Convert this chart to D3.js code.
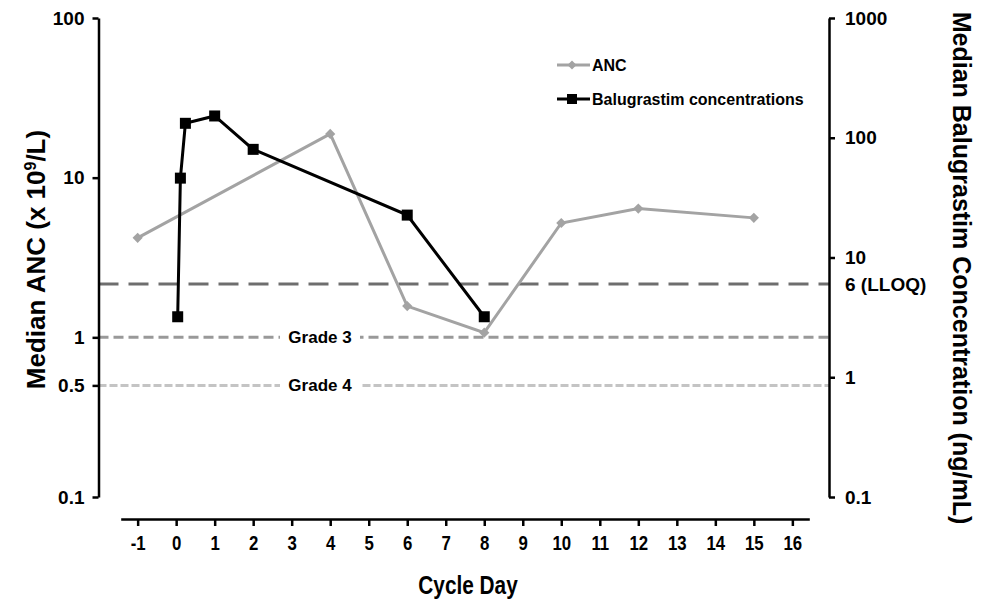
<!DOCTYPE html>
<html>
<head>
<meta charset="utf-8">
<script src="https://cdn.jsdelivr.net/npm/d3@7"></script>
<style>
  body { margin: 0; background: #fff; }
  text { font-family: "Liberation Sans", Arial, sans-serif; font-weight: bold; }
</style>
</head>
<body>
<div id="chart"></div>
<script>
// data
const days = d3.range(-1, 17);
const ancDays = [-1, 4, 6, 8, 10, 12, 15];
const ancValues = [4.2, 18.8, 1.57, 1.07, 5.2, 6.4, 5.6];
const balDays = [0.04, 0.11, 0.24, 1, 2, 6, 8];
const balValues = [3.2, 46, 132, 152, 80, 22.6, 3.2];
const leftTicks = [0.1, 0.5, 1, 10, 100];
const rightTicks = [0.1, 1, 10, 100, 1000];
const lloq = 6;
const gradeLabels = ["Grade 3", "Grade 4"];
const gradeValues = [1, 0.5];

const width = 984, height = 602;
const axL = 98.5, axR = 829, axB = 519;

const svg = d3.select("#chart").append("svg")
  .attr("width", width)
  .attr("height", height);

const x = d3.scaleLinear().domain([-1.44, 16.44]).range([120.7, 809.3]);
const yL = d3.scaleLog().domain([0.1, 100]).range([497, 18]);
const yR = d3.scaleLog().domain([0.1, 1000]).range([497, 18]);

// reference lines
const gradeDash = ["10,5", "8,3"];
const gradeColor = ["#999999", "#c4c4c4"];
svg.append("line")
  .attr("x1", axL).attr("x2", axR)
  .attr("y1", yR(lloq)).attr("y2", yR(lloq))
  .attr("stroke", "#6e6e6e").attr("stroke-width", 3)
  .attr("stroke-dasharray", "20,10");

gradeValues.forEach((v, i) => {
  svg.append("line")
    .attr("x1", axL).attr("x2", axR)
    .attr("y1", yL(v)).attr("y2", yL(v))
    .attr("stroke", gradeColor[i]).attr("stroke-width", 3)
    .attr("stroke-dasharray", gradeDash[i]);
  svg.append("rect")
    .attr("x", 280).attr("y", yL(v) - 9)
    .attr("width", 80).attr("height", 18)
    .attr("fill", "#fff");
  svg.append("text")
    .attr("x", 320).attr("y", yL(v))
    .attr("dy", "0.35em")
    .attr("text-anchor", "middle")
    .style("font-size", "17px")
    .text(gradeLabels[i]);
});

// axes
const leftAxis = svg.append("g")
  .attr("transform", `translate(${axL},0)`)
  .call(d3.axisLeft(yL).tickValues(leftTicks).tickFormat(d3.format("")).tickSize(6).tickSizeOuter(0).tickPadding(8));
const rightAxis = svg.append("g")
  .attr("transform", `translate(${axR},0)`)
  .call(d3.axisRight(yR).tickValues(rightTicks).tickFormat(d3.format("")).tickSize(6).tickSizeOuter(0).tickPadding(10));
[leftAxis, rightAxis].forEach(g => {
  g.select(".domain").attr("stroke-width", 2.5);
  g.selectAll(".tick line").attr("stroke-width", 2.5);
  g.selectAll(".tick text")
    .style("font-family", '"Liberation Sans", Arial, sans-serif')
    .style("font-weight", "bold")
    .style("font-size", "19px")
    .attr("fill", "#000");
});
svg.append("text")
  .attr("x", axR + 16).attr("y", yR(lloq))
  .attr("dy", "0.35em")
  .style("font-size", "19px")
  .text(lloq + " (LLOQ)");

// x labels in the original are a condensed face, squeeze them horizontally
const bottomAxis = svg.append("g")
  .attr("transform", `translate(0,${axB})`)
  .call(d3.axisBottom(x).tickValues(days).tickSize(7).tickSizeOuter(0).tickPadding(9));
bottomAxis.select(".domain").attr("stroke-width", 2.5);
bottomAxis.selectAll(".tick line").attr("stroke-width", 2.5);
bottomAxis.selectAll(".tick text")
  .style("font-family", '"Liberation Sans", Arial, sans-serif')
  .style("font-weight", "bold")
  .style("font-size", "21px")
  .attr("fill", "#000")
  .attr("transform", "scale(0.8,1)")
  .text(d => d < 0 ? "-" + Math.abs(d) : d);

// axis titles
svg.append("text")
  .attr("transform", `translate(45,${(18 + 497) / 2 + 2}) rotate(-90)`)
  .attr("text-anchor", "middle")
  .style("font-size", "26px")
  .html('Median ANC (x 10<tspan dy="-9" style="font-size:16px">9</tspan><tspan dy="9">/L)</tspan>');
svg.append("text")
  .attr("transform", `translate(953,${268}) rotate(90)`)
  .attr("text-anchor", "middle")
  .style("font-size", "25px")
  .text("Median Balugrastim Concentration (ng/mL)");
svg.append("text")
  .attr("transform", "translate(468,594) scale(0.8,1)")
  .attr("text-anchor", "middle")
  .style("font-size", "26px")
  .text("Cycle Day");

// series
const ancLine = d3.line().x((d, i) => x(ancDays[i])).y(d => yL(d));
const balLine = d3.line().x((d, i) => x(balDays[i])).y(d => yR(d));

svg.append("path")
  .datum(ancValues)
  .attr("d", ancLine)
  .attr("fill", "none").attr("stroke", "#a3a3a3").attr("stroke-width", 3);
svg.selectAll("path.anc")
  .data(ancValues)
  .join("path")
  .attr("class", "anc")
  .attr("d", d3.symbol(d3.symbolSquare, 52)())
  .attr("transform", (d, i) => `translate(${x(ancDays[i])},${yL(d)}) rotate(45)`)
  .attr("fill", "#a3a3a3");

svg.append("path")
  .datum(balValues)
  .attr("d", balLine)
  .attr("fill", "none").attr("stroke", "#000").attr("stroke-width", 3);
svg.selectAll("rect.bal")
  .data(balValues)
  .join("rect")
  .attr("class", "bal")
  .attr("x", (d, i) => x(balDays[i]) - 5.5)
  .attr("y", d => yR(d) - 5.5)
  .attr("width", 11).attr("height", 11)
  .attr("fill", "#000");

// legend
const legend = svg.append("g").attr("transform", "translate(557,0)");
legend.append("line").attr("x1", 0).attr("x2", 33).attr("y1", 65).attr("y2", 65)
  .attr("stroke", "#a3a3a3").attr("stroke-width", 3);
legend.append("path")
  .attr("d", d3.symbol(d3.symbolSquare, 40)())
  .attr("transform", "translate(15,65) rotate(45)")
  .attr("fill", "#a3a3a3");
legend.append("text").attr("x", 35).attr("y", 65).attr("dy", "0.35em")
  .style("font-size", "16px").text("ANC");
legend.append("line").attr("x1", 0).attr("x2", 33).attr("y1", 99).attr("y2", 99)
  .attr("stroke", "#000").attr("stroke-width", 3);
legend.append("rect").attr("x", 10).attr("y", 94).attr("width", 10).attr("height", 10)
  .attr("fill", "#000");
legend.append("text").attr("x", 35).attr("y", 99).attr("dy", "0.35em")
  .style("font-size", "16px").text("Balugrastim concentrations");
</script>
</body>
</html>
